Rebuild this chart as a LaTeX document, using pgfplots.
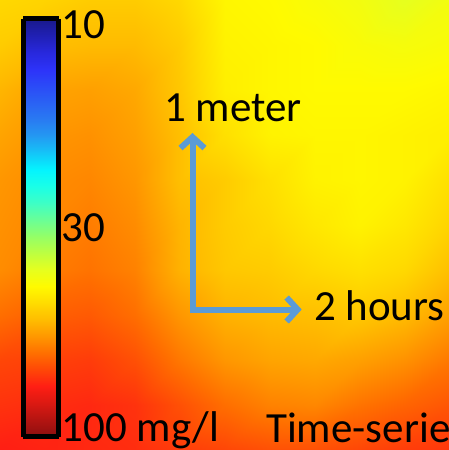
\documentclass[border=0pt]{standalone}
\usepackage{pgfplots}
\pgfplotsset{compat=1.18}
\usepackage{fontspec}
\setmainfont{Carlito}
\usetikzlibrary{arrows.meta}
\definecolor{arrblue}{RGB}{91,155,213}
\newcommand\bigfont{\fontsize{43}{50}\selectfont}
\begin{document}
\begin{tikzpicture}
\begin{axis}[
  at={(0,0)}, anchor=south west,
  scale only axis, width=449pt, height=450pt,
  xmin=0, xmax=449, ymin=0, ymax=450, y dir=reverse,
  enlargelimits=false,
  axis line style={draw=none}, ticks=none,
  colormap={conc}{
    rgb255=(140,15,15) rgb255=(178,20,17) rgb255=(217,25,18) rgb255=(255,30,20)
    rgb255=(255,70,7) rgb255=(255,110,0) rgb255=(255,150,0) rgb255=(255,187,0)
    rgb255=(255,220,0) rgb255=(255,250,0) rgb255=(230,255,30) rgb255=(190,255,64)
    rgb255=(149,255,102) rgb255=(104,255,152) rgb255=(61,255,198) rgb255=(26,255,231)
    rgb255=(4,244,254) rgb255=(20,198,248) rgb255=(36,152,242) rgb255=(41,122,242)
    rgb255=(42,98,244) rgb255=(43,75,247) rgb255=(45,51,249) rgb255=(40,40,220)
    rgb255=(32,32,180) rgb255=(25,25,140)
  },
  point meta min=-2, point meta max=-1,
  colorbar sampled={surf, shader=interp},
  colorbar style={
    at={(parent axis.north west)}, anchor=north west,
    xshift=14.5pt, yshift=-19pt,
    scale only axis, width=35.5pt, height=418pt,
    xmin=0, xmax=1, ymin=-2, ymax=-1, enlargelimits=false,
    samples=60,
    ytick={-1.985,-1.50,-1.013},
    yticklabels={100 mg/l,30,10},
    major tick length=0pt,
    yticklabel pos=right,
    yticklabel style={font=\bigfont, inner sep=0pt, xshift=3pt, anchor=west, text=black},
    axis line style={draw=black, line width=5pt},
  },
]
\addplot[surf, shader=interp, mesh/cols=11, mesh/rows=11,
  point meta={-ln(\thisrow{c})/2.302585}] table {
x y c
0 0 48.4
45 0 49.0
90 0 50.1
135 0 50.1
180 0 48.4
225 0 44.2
270 0 43.7
315 0 42.7
360 0 41.7
405 0 39.8
450 0 41.7
0 45 50.1
45 45 51.9
90 45 52.5
135 45 52.5
180 45 50.1
225 45 44.7
270 45 44.2
315 45 43.7
360 45 42.7
405 45 42.2
450 45 42.7
0 90 53.3
45 90 55.6
90 90 56.2
135 90 55.0
180 90 50.7
225 90 45.2
270 90 44.2
315 90 43.7
360 90 43.7
405 90 43.7
450 90 44.2
0 135 55.6
45 135 57.5
90 135 58.2
135 135 56.2
180 135 51.9
225 135 47.3
270 135 44.7
315 135 44.2
360 135 44.2
405 135 44.7
450 135 45.2
0 180 57.5
45 180 58.9
90 180 59.6
135 180 57.5
180 180 51.9
225 180 50.1
270 180 47.3
315 180 44.7
360 180 44.2
405 180 44.7
450 180 47.3
0 225 58.2
45 225 59.6
90 225 61.0
135 225 58.9
180 225 53.3
225 225 50.1
270 225 48.4
315 225 46.2
360 225 44.7
405 225 46.2
450 225 49.0
0 270 58.9
45 270 61.0
90 270 62.4
135 270 60.3
180 270 53.7
225 270 50.7
270 270 50.1
315 270 48.4
360 270 47.3
405 270 48.4
450 270 51.9
0 315 63.1
45 315 65.3
90 315 66.1
135 315 63.1
180 315 57.5
225 315 53.7
270 315 52.5
315 315 51.9
360 315 50.7
405 315 52.5
450 315 56.2
0 360 69.2
45 360 70.0
90 360 70.8
135 360 67.6
180 360 61.7
225 360 57.5
270 360 55.6
315 360 55.0
360 360 56.2
405 360 58.2
450 360 61.7
0 405 72.4
45 405 73.3
90 405 74.1
135 405 72.4
180 405 67.6
225 405 63.1
270 405 60.3
315 405 59.6
360 405 62.4
405 405 64.6
450 405 66.8
0 450 75.9
45 450 75.0
90 450 74.1
135 450 73.3
180 450 70.8
225 450 69.2
270 450 67.6
315 450 67.6
360 450 69.2
405 450 70.8
450 450 71.6
};
\draw[arrblue, line width=6pt, line join=miter,
  {Straight Barb[length=11pt,width=24pt]}-{Straight Barb[length=11pt,width=24pt]}]
  (axis cs:192.5,133) -- (axis cs:192.5,309.5) -- (axis cs:301.7,309.5);
\node[anchor=base west, inner sep=0pt, font=\bigfont] at (axis cs:164,121) {1 meter};
\node[anchor=base west, inner sep=0pt, font=\bigfont] at (axis cs:314,320) {2 hours};
\node[anchor=base west, inner sep=0pt, font=\bigfont] at (axis cs:266,442) {Time-series};
\end{axis}
\pgfresetboundingbox
\useasboundingbox (0,0) rectangle (449pt,450pt);
\end{tikzpicture}
\end{document}
